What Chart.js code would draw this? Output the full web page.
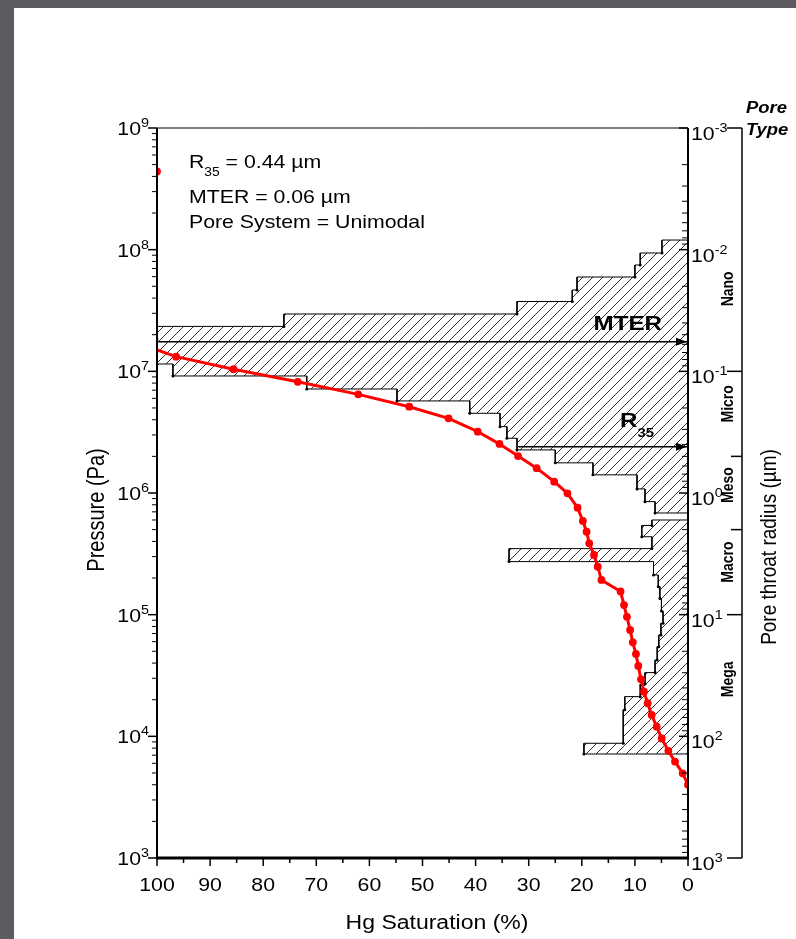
<!DOCTYPE html>
<html>
<head>
<meta charset="utf-8">
<title>Capillary pressure curve</title>
<script src="https://cdn.jsdelivr.net/npm/chart.js@4.4.1/dist/chart.umd.min.js"></script>
<style>
  html, body { margin: 0; padding: 0; }
  body { width: 796px; height: 939px; background: #5c5b61; position: relative; overflow: hidden; }
  #sheet { position: absolute; left: 14px; top: 8px; right: 0; bottom: 0; background: #fff; }
  #pc-chart { position: absolute; left: 0; top: 0; }
</style>
</head>
<body>
<div id="sheet"></div>
<canvas id="pc-chart" width="796" height="939"></canvas>
<script>
// Hg injection curve
const hgSaturation = [100, 96.4, 85.6, 73.5, 62.1, 52.5, 45.1, 39.6, 35.5, 32.0, 28.5, 25.2, 22.7, 20.8,
  19.8, 19.1, 18.6, 17.7, 17.0, 16.3, 12.7, 12.05, 11.5, 10.9, 10.4, 9.8, 9.36, 8.85, 8.29, 7.6, 6.84,
  5.9, 4.95, 3.7, 2.45, 1.0, 0];
const hgPressure = [1.5e7, 1.32e7, 1.04e7, 8.2e6, 6.47e6, 5.12e6, 4.11e6, 3.19e6, 2.53e6, 2.01e6, 1.6e6,
  1.24e6, 9.94e5, 7.57e5, 5.89e5, 4.81e5, 3.86e5, 3.1e5, 2.48e5, 1.93e5, 1.55e5, 1.2e5, 9.6e4, 7.48e4,
  5.93e4, 4.75e4, 3.79e4, 2.94e4, 2.33e4, 1.87e4, 1.5e4, 1.2e4, 9.6e3, 7.6e3, 6.2e3, 4.97e3, 4.0e3];
const firstReading = { sat: 100, pressure: 4.4e8 };

// pore throat distribution: bin edges (Pa) and bar length (% from the right axis)
const histEdges = [1.2e8, 9.39e7, 7.48e7, 5.96e7, 4.66e7, 3.75e7, 2.96e7, 2.34e7, 1.84e7, 1.47e7, 1.149e7,
  9.16e6, 7.16e6, 5.71e6, 4.52e6, 3.51e6, 2.82e6, 2.26e6, 1.77e6, 1.41e6, 1.08e6, 8.49e5, 6.85e5, 6.0e5,
  5.41e5, 4.37e5, 3.49e5, 2.73e5, 2.12e5, 1.7e5, 1.36e5, 1.07e5, 8.49e4, 6.81e4, 5.46e4, 4.24e4, 3.34e4,
  2.69e4, 2.12e4, 1.65e4, 8.77e3, 7.16e3];
const histLength = [4.9, 9.0, 10.0, 20.9, 21.8, 32.2, 76.1, 100, 100, 100, 97.0, 71.8, 54.8, 41.1, 35.4,
  34.1, 32.2, 25.0, 17.9, 9.6, 8.1, 6.2, 0, 6.8, 8.7, 6.8, 33.7, 6.5, 5.6, 5.3, 5.0, 4.7, 5.1, 5.5, 5.8,
  6.2, 8.1, 9.0, 11.9, 12.2, 19.6];

const mterPressure = 1.75e7;
const r35Pressure = 2.4e6;
const r35StartSat = 32;

const satTicks = [100, 90, 80, 70, 60, 50, 40, 30, 20, 10, 0];
const pressureTicks = [1e3, 1e4, 1e5, 1e6, 1e7, 1e8, 1e9];
const radiusTicks = [1e-3, 1e-2, 1e-1, 1e0, 1e1, 1e2, 1e3];
const poreTypes = ["Nano", "Micro", "Meso", "Macro", "Mega"];
const poreBounds = [0.001, 0.1, 0.5, 2, 10, 1000];
const poreLabelAt = [0.021, 0.185, 0.86, 3.7, 34];

const canvas = document.getElementById("pc-chart");
const ctx0 = canvas.getContext("2d");
const FONT = "'Liberation Sans', Arial, sans-serif";
const SX = 1.15; // the source figure is a bit stretched sideways

function hatch() {
  const c = document.createElement("canvas");
  c.width = 10;
  c.height = 10;
  const g = c.getContext("2d");
  g.strokeStyle = "#1a1a1a";
  g.lineWidth = 0.9;
  g.beginPath();
  g.moveTo(-1, 11); g.lineTo(11, -1);
  g.moveTo(-1, 1); g.lineTo(1, -1);
  g.moveTo(9, 11); g.lineTo(11, 9);
  g.stroke();
  return ctx0.createPattern(c, "repeat");
}

// step outline, closed on the right axis at top and bottom
const histPoints = [{ x: 0, y: histEdges[0] }];
const histDots = [0];
histLength.forEach((len, i) => {
  histPoints.push({ x: len, y: histEdges[i] }, { x: len, y: histEdges[i + 1] });
  histDots.push(0, len > 0 ? 1.5 : 0);
});
histPoints.push({ x: 0, y: histEdges[histEdges.length - 1] });
histDots.push(0);

const curve = hgSaturation.map((s, i) => ({ x: s, y: hgPressure[i] }));

function text(ctx, s, x, y, font, align, rot) {
  ctx.save();
  ctx.translate(x, y);
  ctx.scale(SX, 1);
  if (rot) ctx.rotate(rot);
  ctx.font = font;
  ctx.textAlign = align || "left";
  ctx.textBaseline = "alphabetic";
  ctx.fillStyle = "#000";
  ctx.fillText(s, 0, 0);
  ctx.restore();
}

function width(ctx, s, font) {
  ctx.font = font;
  return ctx.measureText(s).width * SX;
}

function seg(ctx, x1, y1, x2, y2, w) {
  ctx.lineWidth = w;
  ctx.beginPath();
  ctx.moveTo(x1, y1);
  ctx.lineTo(x2, y2);
  ctx.stroke();
}

// "10" with a raised exponent
function power(ctx, exp, x, y, align) {
  const big = "18.5px " + FONT, small = "12.5px " + FONT;
  const w1 = width(ctx, "10", big), w2 = width(ctx, exp, small);
  const x0 = align === "right" ? x - w1 - w2 : x;
  text(ctx, "10", x0, y + 7, big);
  text(ctx, exp, x0 + w1, y - 1, small);
}

const decor = {
  id: "decor",
  afterDatasetsDraw(chart) {
    const { ctx, chartArea: a, scales } = chart;
    const sx = scales.x, sy = scales.y, sr = scales.radius;
    ctx.save();
    ctx.strokeStyle = "#000";
    ctx.fillStyle = "#000";

    // arrow heads on MTER and R35
    [mterPressure, r35Pressure].forEach(p => {
      const y = sy.getPixelForValue(p);
      ctx.beginPath();
      ctx.moveTo(a.right - 1, y);
      ctx.lineTo(a.right - 12, y - 4);
      ctx.lineTo(a.right - 12, y + 4);
      ctx.closePath();
      ctx.fill();
    });

    // frame
    seg(ctx, a.left, a.top, a.right, a.top, 1);
    seg(ctx, a.left, a.top, a.left, a.bottom + 1, 2);
    seg(ctx, a.right, a.top, a.right, a.bottom + 1, 2);
    seg(ctx, a.left - 1, a.bottom, a.right + 1, a.bottom, 3);

    // left axis: pressure
    pressureTicks.forEach((p, i) => {
      const y = sy.getPixelForValue(p);
      seg(ctx, a.left - 9, y, a.left, y, 1.5);
      power(ctx, String(Math.round(Math.log10(p))), a.left - 8, y, "right");
      if (i < pressureTicks.length - 1) {
        for (let m = 2; m < 10; m++) {
          const ym = sy.getPixelForValue(p * m);
          seg(ctx, a.left - 5, ym, a.left, ym, 1);
        }
      }
    });

    // right axis: pore throat radius, ticks point inward
    radiusTicks.forEach((r, i) => {
      const y = sr.getPixelForValue(r);
      seg(ctx, a.right - 9, y, a.right, y, 1.5);
      power(ctx, String(Math.round(Math.log10(r))), a.right + 3, y + 5, "left");
      if (i < radiusTicks.length - 1) {
        for (let m = 2; m < 10; m++) {
          const ym = sr.getPixelForValue(r * m);
          seg(ctx, a.right - 6, ym, a.right, ym, 1);
        }
      }
    });

    // bottom axis: saturation
    satTicks.forEach((s, i) => {
      const x = sx.getPixelForValue(s);
      seg(ctx, x, a.bottom, x, a.bottom + 8, 1.5);
      text(ctx, String(s), x, a.bottom + 33, "18.5px " + FONT, "center");
      if (i < satTicks.length - 1) {
        const xm = sx.getPixelForValue(s - 5);
        seg(ctx, xm, a.bottom, xm, a.bottom + 5, 1.5);
      }
    });

    // axis titles
    text(ctx, "Hg Saturation (%)", 437, 929, "20px " + FONT, "center");
    text(ctx, "Pressure (Pa)", 104, 510, "20px " + FONT, "center", -Math.PI / 2);
    text(ctx, "Pore throat radius (µm)", 776, 547, "19px " + FONT, "center", -Math.PI / 2);

    // pore type bracket
    const bx = 742;
    const top = sr.getPixelForValue(poreBounds[0]);
    const bottom = sr.getPixelForValue(poreBounds[5]);
    seg(ctx, bx, top, bx, bottom, 1.5);
    poreBounds.forEach(r => {
      const y = sr.getPixelForValue(r);
      const decade = Math.abs(Math.log10(r) % 1) < 1e-9;
      seg(ctx, decade ? 727 : 731, y, bx, y, 1.5);
    });
    poreTypes.forEach((name, i) => {
      text(ctx, name, 733, sr.getPixelForValue(poreLabelAt[i]), "bold 14px " + FONT, "center", -Math.PI / 2);
    });
    text(ctx, "Pore", 746, 113, "italic bold 16px " + FONT);
    text(ctx, "Type", 746, 135, "italic bold 16px " + FONT);

    // summary
    const f = "18.5px " + FONT;
    text(ctx, "R", 189, 168, f);
    const wR = width(ctx, "R", f);
    text(ctx, "35", 189 + wR, 176, "12px " + FONT);
    const w35 = width(ctx, "35", "12px " + FONT);
    text(ctx, " = 0.44 µm", 189 + wR + w35, 168, f);
    text(ctx, "MTER = 0.06 µm", 189, 203, f);
    text(ctx, "Pore System = Unimodal", 189, 228, f);

    // line labels
    text(ctx, "MTER", 662, 330, "bold 21px " + FONT, "right");
    text(ctx, "R", 620, 427, "bold 21px " + FONT);
    text(ctx, "35", 620 + width(ctx, "R", "bold 21px " + FONT), 437, "bold 13px " + FONT);
    ctx.restore();
  }
};

new Chart(canvas, {
  type: "line",
  data: {
    datasets: [
      {
        label: "Hg injection",
        data: curve,
        yAxisID: "y",
        borderColor: "#ff0000",
        borderWidth: 3,
        pointRadius: c => (c.dataIndex === 0 ? 0 : 3.9),
        pointBackgroundColor: "#ff0000",
        pointBorderWidth: 0,
        order: 0,
      },
      {
        label: "first reading",
        data: [{ x: firstReading.sat, y: firstReading.pressure }],
        yAxisID: "y",
        showLine: false,
        pointRadius: 3.9,
        pointBackgroundColor: "#ff0000",
        pointBorderWidth: 0,
        order: 0,
      },
      {
        label: "MTER",
        data: [{ x: 100, y: mterPressure }, { x: 0, y: mterPressure }],
        yAxisID: "y",
        borderColor: "#000",
        borderWidth: 1.3,
        pointRadius: 0,
        order: 1,
      },
      {
        label: "R35",
        data: [{ x: r35StartSat, y: r35Pressure }, { x: 0, y: r35Pressure }],
        yAxisID: "y",
        borderColor: "#000",
        borderWidth: 1.3,
        pointRadius: 0,
        order: 1,
      },
      {
        label: "Pore throat distribution",
        data: histPoints,
        yAxisID: "y",
        indexAxis: "y",
        borderColor: "#000",
        borderWidth: 1,
        backgroundColor: hatch(),
        fill: { value: 0 },
        pointRadius: histDots,
        pointBackgroundColor: "#000",
        pointBorderWidth: 0,
        order: 2,
      },
    ],
  },
  options: {
    responsive: false,
    animation: false,
    events: [],
    layout: { padding: { top: 128 } },
    plugins: { legend: { display: false }, tooltip: { enabled: false } },
    scales: {
      x: {
        type: "linear", min: 0, max: 100, reverse: true,
        ticks: { display: false }, grid: { display: false }, border: { display: false },
        afterFit: s => { s.height = 81; },
      },
      y: {
        type: "logarithmic", position: "left", min: 1e3, max: 1e9,
        ticks: { display: false }, grid: { display: false }, border: { display: false },
        afterFit: s => { s.width = 157; },
      },
      radius: {
        axis: "y", type: "logarithmic", position: "right", min: 1e-3, max: 1e3, reverse: true,
        ticks: { display: false }, grid: { display: false }, border: { display: false },
        afterFit: s => { s.width = 108; },
      },
    },
  },
  plugins: [decor],
});
</script>
</body>
</html>
